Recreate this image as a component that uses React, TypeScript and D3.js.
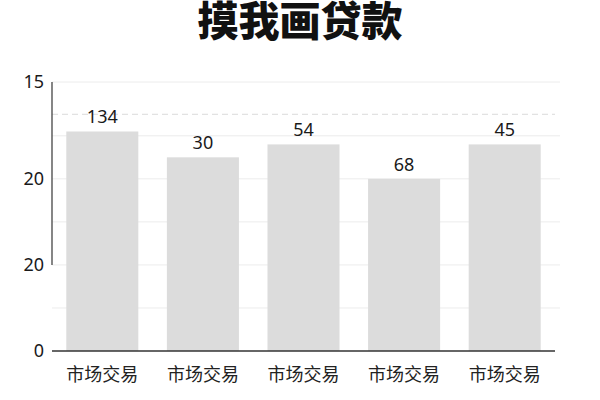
import React from 'react'
import * as d3 from 'd3'

const title = '摸我画贷款'
const categories = ['市场交易', '市场交易', '市场交易', '市场交易', '市场交易']
// bar heights as drawn (chart units), and the labels printed above them
const barHeights = [51, 45, 48, 40, 48]
const barLabels = ['134', '30', '54', '68', '45']
// y ticks: positions in chart units, and the text shown beside them
const tickValues = [0, 20, 40, 62.5]
const tickLabels = ['0', '20', '20', '15']
const gridValues = [10, 20, 30, 40, 50, 62.5]
const dashedValue = 55

const width = 600
const height = 400
const margin = { top: 82, right: 40, bottom: 49, left: 52 }

export default function App() {
  const innerBottom = height - margin.bottom

  const x = d3.scaleBand<number>()
    .domain(categories.map((_, i) => i))
    .range([margin.left, 555])
    .paddingInner(0.284)
    .paddingOuter(0.142)

  const y = d3.scaleLinear()
    .domain([0, 62.5])
    .range([innerBottom, margin.top])

  const numFont = '"Noto Sans", "Open Sans", sans-serif'
  const cjkFont = '"Noto Sans CJK SC", sans-serif'

  return (
    <svg width={width} height={height} style={{ position: 'absolute', left: 0, top: 0, background: '#fff' }}>
      <text x={300} y={36} textAnchor="middle" fontFamily={cjkFont} fontWeight={900} fontSize={41} fill="#111">
        {title}
      </text>

      {/* grid */}
      {gridValues.map(v => (
        <line key={v} x1={margin.left} x2={560} y1={y(v)} y2={y(v)} stroke="#ececec" strokeWidth={1} />
      ))}
      <line x1={margin.left} x2={555} y1={y(dashedValue)} y2={y(dashedValue)}
        stroke="#dadada" strokeWidth={1} strokeDasharray="6,4" />

      {/* bars */}
      {barHeights.map((v, i) => (
        <g key={i}>
          <rect x={x(i)} y={y(v)} width={x.bandwidth()} height={innerBottom - y(v)} fill="#dcdcdc" />
          <text x={x(i)! + x.bandwidth() / 2} y={y(v) - 8} textAnchor="middle"
            fontFamily={numFont} fontSize={18} fill="#1a1a1a">{barLabels[i]}</text>
          <text x={x(i)! + x.bandwidth() / 2} y={381} textAnchor="middle"
            fontFamily={cjkFont} fontSize={18} fill="#222">{categories[i]}</text>
        </g>
      ))}

      {/* axes */}
      <line x1={margin.left} x2={margin.left} y1={y(62.5)} y2={y(20)} stroke="#444" strokeWidth={1.3} />
      <line x1={margin.left} x2={555} y1={innerBottom} y2={innerBottom} stroke="#333" strokeWidth={1.3} />
      {tickValues.map((v, i) => (
        <text key={i} x={44} y={y(v)} dy="0.35em" textAnchor="end"
          fontFamily={numFont} fontSize={18} fill="#1a1a1a">{tickLabels[i]}</text>
      ))}
    </svg>
  )
}
